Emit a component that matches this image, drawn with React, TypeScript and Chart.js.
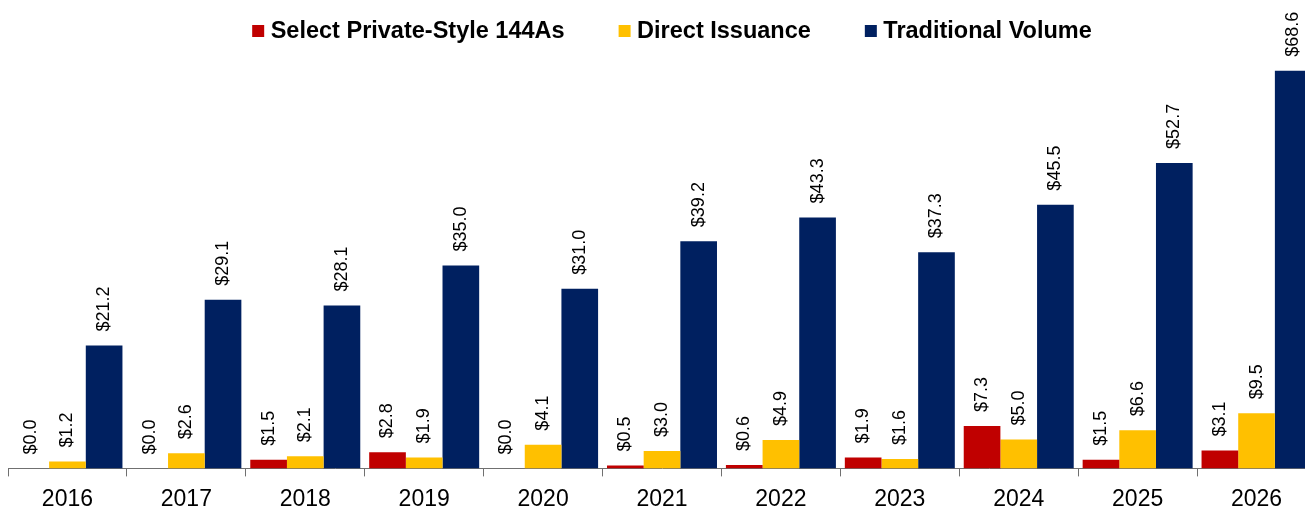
import React, { useEffect, useRef } from "react";
import { Chart, registerables } from "chart.js";

Chart.register(...registerables);

const categories = ["2016", "2017", "2018", "2019", "2020", "2021", "2022", "2023", "2024", "2025", "2026"];
const privateStyle144As = [0.0, 0.0, 1.5, 2.8, 0.0, 0.5, 0.6, 1.9, 7.3, 1.5, 3.1];
const directIssuance = [1.2, 2.6, 2.1, 1.9, 4.1, 3.0, 4.9, 1.6, 5.0, 6.6, 9.5];
const traditionalVolume = [21.2, 29.1, 28.1, 35.0, 31.0, 39.2, 43.3, 37.3, 45.5, 52.7, 68.6];
const seriesNames = ["Select Private-Style 144As", "Direct Issuance", "Traditional Volume"];
const seriesColors = ["#C00000", "#FFC000", "#002060"];

const FONT = "'Liberation Sans', Arial, Helvetica, sans-serif";

const valueLabelPlugin = {
  id: "valueLabels",
  afterDatasetsDraw(chart: any) {
    const ctx = chart.ctx;
    ctx.save();
    ctx.font = `18px ${FONT}`;
    ctx.fillStyle = "#000000";
    ctx.textAlign = "left";
    ctx.textBaseline = "middle";
    chart.data.datasets.forEach((ds: any, i: number) => {
      const meta = chart.getDatasetMeta(i);
      meta.data.forEach((el: any, j: number) => {
        const v = ds.data[j] as number;
        ctx.save();
        ctx.translate(el.x, el.y - 14);
        ctx.rotate(-Math.PI / 2);
        ctx.fillText("$" + v.toFixed(1), 0, 0);
        ctx.restore();
      });
    });
    ctx.restore();
  },
};

const legendPlugin = {
  id: "customLegend",
  afterDraw(chart: any) {
    const ctx = chart.ctx;
    ctx.save();
    ctx.font = `bold 23.5px ${FONT}`;
    const box = 12;
    const gapText = 6.5;
    const gapItem = 54;
    const centerX = 672;
    const boxTop = 25;
    const baseline = 38.3;
    const datasets = chart.data.datasets;
    const widths = datasets.map((ds: any) => ctx.measureText(ds.label).width);
    const total =
      widths.reduce((a: number, w: number) => a + box + gapText + w, 0) + gapItem * (widths.length - 1);
    let x = centerX - total / 2;
    ctx.textAlign = "left";
    ctx.textBaseline = "alphabetic";
    datasets.forEach((ds: any, i: number) => {
      ctx.fillStyle = ds.backgroundColor;
      ctx.fillRect(x, boxTop, box, box);
      ctx.fillStyle = "#000000";
      ctx.fillText(ds.label, x + box + gapText, baseline);
      x += box + gapText + widths[i] + gapItem;
    });
    ctx.restore();
  },
};

export default function App() {
  const canvasRef = useRef<HTMLCanvasElement | null>(null);

  useEffect(() => {
    if (!canvasRef.current) return;
    const seriesData = [privateStyle144As, directIssuance, traditionalVolume];
    const chart = new Chart(canvasRef.current, {
      type: "bar",
      data: {
        labels: categories,
        datasets: seriesData.map((d, i) => ({
          label: seriesNames[i],
          data: d,
          backgroundColor: seriesColors[i],
          borderWidth: 0,
          categoryPercentage: 0.925,
          barPercentage: 1.0,
        })),
      },
      options: {
        animation: false,
        responsive: false,
        maintainAspectRatio: false,
        devicePixelRatio: 1,
        layout: { padding: { left: 8, right: 0, top: 0, bottom: 0 } },
        plugins: {
          legend: { display: false },
          tooltip: { enabled: false },
        },
        scales: {
          x: {
            offset: true,
            grid: {
              display: true,
              offset: true,
              drawOnChartArea: false,
              drawTicks: true,
              tickLength: 8,
              color: "#707070",
              lineWidth: 1,
            },
            border: { display: true, color: "#707070", width: 1 },
            ticks: {
              font: { family: FONT, size: 23 },
              color: "#000000",
              padding: 9,
              maxRotation: 0,
              autoSkip: false,
            },
          },
          y: {
            display: false,
            min: 0,
            max: 80.8,
          },
        },
      },
      plugins: [valueLabelPlugin, legendPlugin],
    });
    return () => chart.destroy();
  }, []);

  return (
    <div
      style={{
        position: "fixed",
        left: 0,
        top: 0,
        width: 1305,
        height: 508,
        overflow: "hidden",
        background: "#ffffff",
      }}
    >
      <canvas ref={canvasRef} width={1316} height={522} style={{ display: "block", width: 1316, height: 522 }} />
    </div>
  );
}
